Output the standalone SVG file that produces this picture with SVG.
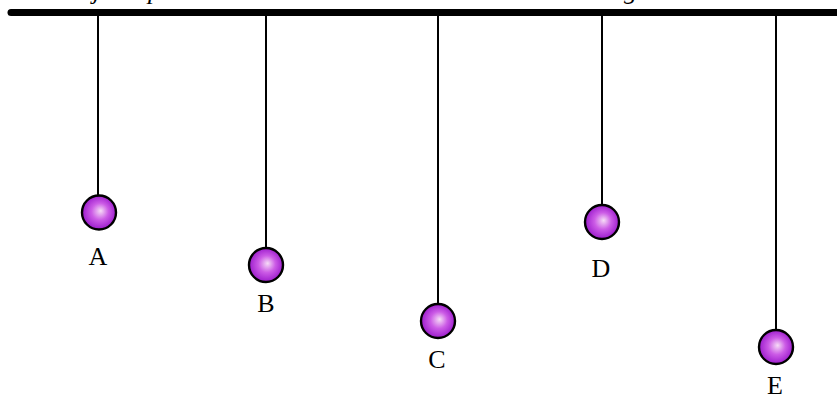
<svg xmlns="http://www.w3.org/2000/svg" width="837" height="397" viewBox="0 0 837 397">
<style>
.bar{stroke:#000;stroke-width:7;stroke-linecap:round;fill:none}
.str{stroke:#000;stroke-width:2;fill:none}
.bob{fill:url(#g);stroke:#000;stroke-width:2.4}
.lbl{font-family:"Liberation Serif",serif;font-size:26px;text-anchor:middle;fill:#000}
.top{font-family:"Liberation Serif",serif;font-style:italic;font-size:26px;fill:#000}
</style>
<defs>
<radialGradient id="g" cx="50%" cy="50%" r="55%" fx="55%" fy="45%">
<stop offset="0" stop-color="#f6dcf6"/>
<stop offset="0.45" stop-color="#cc5ce6"/>
<stop offset="1" stop-color="#9410c8"/>
</radialGradient>
</defs>
<g id="title">
<text class="top" x="93" y="-1">j</text>
<text class="top" x="148" y="-1">p</text>
<text class="top" x="624" y="-1">g</text>
</g>
<g id="support"><line class="bar" x1="11" y1="12.5" x2="840" y2="12.5"/></g>
<g id="connectors">
<line class="str" x1="98" y1="12" x2="98" y2="196"/>
<line class="str" x1="266" y1="12" x2="266" y2="248"/>
<line class="str" x1="438" y1="12" x2="438" y2="304"/>
<line class="str" x1="602" y1="12" x2="602" y2="205"/>
<line class="str" x1="776" y1="12" x2="776" y2="330"/>
</g>
<g id="A"><circle class="bob" cx="99" cy="212.5" r="17"/><text class="lbl" x="98" y="265">A</text></g>
<g id="B"><circle class="bob" cx="266" cy="265" r="17"/><text class="lbl" x="266" y="312">B</text></g>
<g id="C"><circle class="bob" cx="438" cy="321" r="17"/><text class="lbl" x="437" y="368">C</text></g>
<g id="D"><circle class="bob" cx="602" cy="222" r="17"/><text class="lbl" x="601" y="277">D</text></g>
<g id="E"><circle class="bob" cx="776" cy="347" r="17"/><text class="lbl" x="775" y="394">E</text></g>
</svg>
